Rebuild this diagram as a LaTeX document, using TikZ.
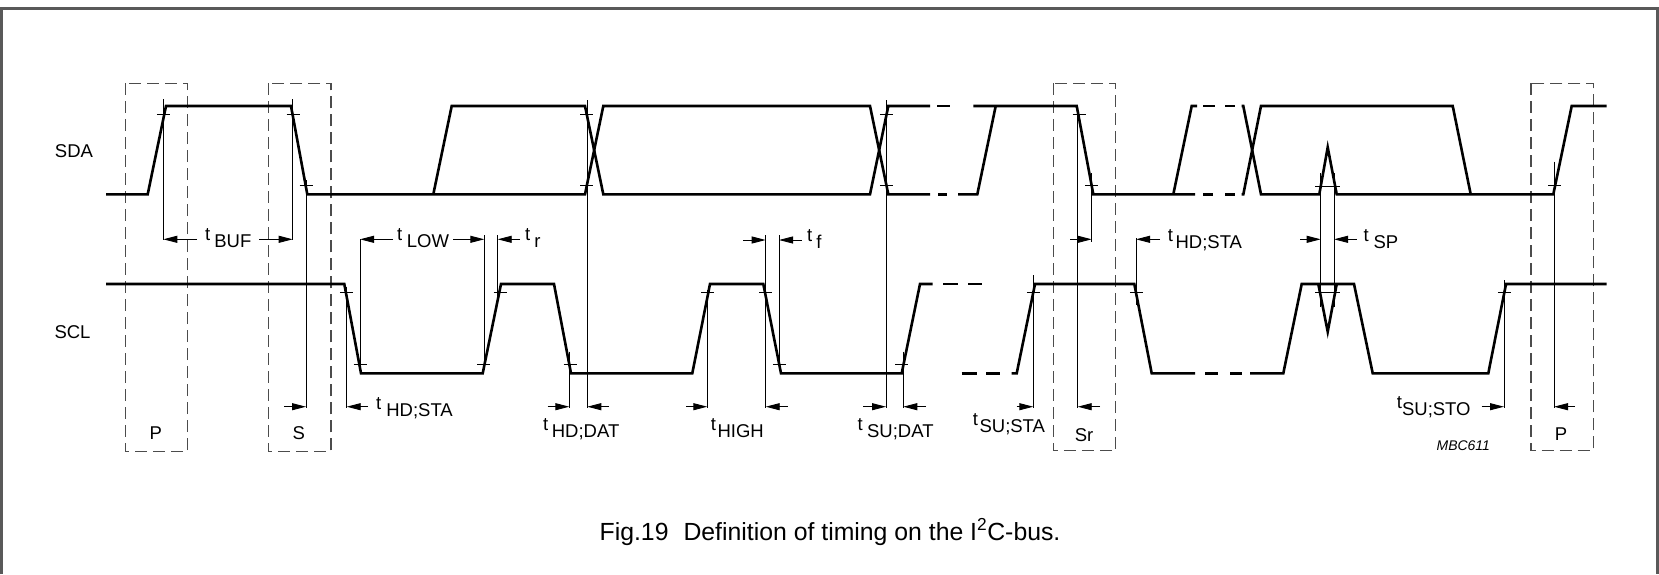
\documentclass[tikz,border=0pt]{standalone}
\usepackage{fontspec}
\setmainfont{Liberation Sans}
\usetikzlibrary{arrows.meta}
\newcommand{\tlab}[2]{t\hspace{#1pt}\raisebox{-7pt}{#2}}

\begin{document}
\begin{tikzpicture}[x=1pt,y=-1pt,
    sigline/.style={line width=2.6pt},
    guideline/.style={line width=0.9pt},
    dimarrow/.style={line width=0.9pt,-{Triangle[length=14pt,width=7pt]}},
    phasebox/.style={line width=1.2pt,black!70,dash pattern=on 12pt off 6pt},
    lbl/.style={font=\fontsize{18.5}{20}\selectfont,inner sep=0pt}]
    \useasboundingbox (0,0) rectangle (1659,574);
    \draw[line width=3pt,black!65] (1.5,574) -- (1.5,8.5) -- (1657.5,8.5) -- (1657.5,574);

    \draw[phasebox] (125.7,83.3) rectangle (187.7,451.7);
    \draw[phasebox] (268.7,83.3) rectangle (331,451.7);
    \draw[phasebox] (1053.3,83.3) rectangle (1115.7,450.7);
    \draw[phasebox] (1531,83.3) rectangle (1593.3,450.7);

    \draw[sigline] (106,194.3) -- (147.7,194.3) -- (166,106) -- (291,106) -- (307.3,194.3) -- (585,194.3) -- (603.3,106) -- (870,106) -- (888.3,194.3) -- (930,194.3);
    \draw[sigline] (433.3,194.3) -- (451.7,106) -- (585,106) -- (603.3,194.3) -- (870,194.3) -- (888.3,106) -- (930,106);
    \draw[sigline] (937,106) -- (950,106) (938,194.3) -- (947,194.3);
    \draw[sigline] (958,194.3) -- (977.3,194.3) -- (995.7,106);
    \draw[sigline] (973.3,106) -- (1076.7,106) -- (1093.3,194.3) -- (1195,194.3);
    \draw[sigline] (1173.3,194.3) -- (1191.7,106) -- (1197,106);
    \draw[sigline] (1203.3,106) -- (1215,106) (1225,106) -- (1235,106) (1203.3,194.3) -- (1213.3,194.3) (1225,194.3) -- (1235,194.3);
    \draw[sigline] (1241.7,106) -- (1243.3,106) -- (1261,194.3) -- (1319.3,194.3) -- (1327.7,147.3) -- (1336.7,194.3) -- (1553.3,194.3) -- (1571.7,106) -- (1606.7,106);
    \draw[sigline] (1241.7,194.3) -- (1243.3,194.3) -- (1261,106) -- (1452.7,106) -- (1470.7,194.3);

    \draw[sigline] (106,284) -- (344.3,284) -- (361,373.3) -- (482.7,373.3) -- (501,284) -- (554,284) -- (571,373.3) -- (692.3,373.3) -- (710,284) -- (763.3,284) -- (781,373.3) -- (901.7,373.3) -- (920,284) -- (932.7,284);
    \draw[sigline] (943.3,284) -- (958.3,284) (968.3,284) -- (981.7,284) (961.7,373.3) -- (976.7,373.3) (986,373.3) -- (1000,373.3);
    \draw[sigline] (1011.7,373.3) -- (1016.7,373.3) -- (1035,284) -- (1134.3,284) -- (1151.7,373.3) -- (1195,373.3);
    \draw[sigline] (1205,373.3) -- (1218.3,373.3) (1230,373.3) -- (1241.7,373.3);
    \draw[sigline] (1250,373.3) -- (1283.3,373.3) -- (1301.7,284) -- (1354,284) -- (1372.7,373.3) -- (1488.3,373.3) -- (1506,284) -- (1606.7,284);
    \draw[sigline] (1318.3,284) -- (1327.7,331.7) -- (1336.7,284);

    \foreach \x/\y in {163.3/114.3, 293/114.3, 306/185.7, 586.7/114.3, 586.7/185.7, 886.3/114.3, 886.3/185.7,
        1079/114.3, 1091.5/185.7, 1554.5/185.7, 346.3/292.3, 360/364.3, 483.8/364.3, 500/292.3, 570/364.3,
        707.5/292.3, 765.8/292.3, 779.3/364.3, 901.7/364.3, 1033.3/292.3, 1136.3/292.3, 1504.3/292.3}
        \draw[guideline] (\x-6.5,\y) -- (\x+6.5,\y);
    \draw[guideline] (1315,186) -- (1340,186) (1315,292.3) -- (1340,292.3);

    \draw[guideline] (163.3,99) -- (163.3,240);
    \draw[guideline] (292.7,99) -- (292.7,240);
    \draw[guideline] (306,180) -- (306,408);
    \draw[guideline] (346.7,287) -- (346.7,408);
    \draw[guideline] (360,239) -- (360,370);
    \draw[guideline] (484.3,235) -- (484.3,370);
    \draw[guideline] (497.7,235) -- (497.7,297);
    \draw[guideline] (569.3,351.7) -- (569.3,408);
    \draw[guideline] (587.3,100) -- (587.3,408);
    \draw[guideline] (707.3,290) -- (707.3,408);
    \draw[guideline] (765.7,235) -- (765.7,408);
    \draw[guideline] (779,235) -- (779,368);
    \draw[guideline] (886,100) -- (886,408);
    \draw[guideline] (903.3,351.7) -- (903.3,408);
    \draw[guideline] (1033.3,275) -- (1033.3,408);
    \draw[guideline] (1077.7,105) -- (1077.7,408);
    \draw[guideline] (1091.7,173) -- (1091.7,241.7);
    \draw[guideline] (1136,238) -- (1136,305);
    \draw[guideline] (1320.7,173) -- (1320.7,306.7);
    \draw[guideline] (1334,173) -- (1334,306.7);
    \draw[guideline] (1504,280) -- (1504,408);
    \draw[guideline] (1554,161.7) -- (1554,408);

    \draw[dimarrow] (197,239.3) -- (163.3,239.3);
    \draw[dimarrow] (259,239.3) -- (292.7,239.3);
    \draw[dimarrow] (284,406.7) -- (306,406.7);
    \draw[dimarrow] (368,406.7) -- (346.7,406.7);
    \draw[dimarrow] (393,239.3) -- (360,239.3);
    \draw[dimarrow] (453,239.3) -- (484.3,239.3);
    \draw[dimarrow] (520,239.3) -- (497.7,239.3);
    \draw[dimarrow] (547.7,406.7) -- (569.3,406.7);
    \draw[dimarrow] (609,406.7) -- (587.3,406.7);
    \draw[dimarrow] (686,406.7) -- (707.3,406.7);
    \draw[dimarrow] (787.7,406.7) -- (765.7,406.7);
    \draw[dimarrow] (743.3,240) -- (765.7,240);
    \draw[dimarrow] (801.7,240) -- (779,240);
    \draw[dimarrow] (863.3,406.7) -- (886,406.7);
    \draw[dimarrow] (926,406.7) -- (903.3,406.7);
    \draw[dimarrow] (1016.7,406.7) -- (1033.3,406.7);
    \draw[dimarrow] (1070,239.3) -- (1091.7,239.3);
    \draw[dimarrow] (1100,406.7) -- (1077.7,406.7);
    \draw[dimarrow] (1160,239.3) -- (1136,239.3);
    \draw[dimarrow] (1300,239.3) -- (1320.7,239.3);
    \draw[dimarrow] (1356.7,239.3) -- (1334,239.3);
    \draw[dimarrow] (1481.7,406.7) -- (1504,406.7);
    \draw[dimarrow] (1575,406.7) -- (1554,406.7);

    \node[lbl] (sda) at (74,151.5) {SDA};
    \node[lbl] (scl) at (72.5,331.7) {SCL};
    \node[lbl,anchor=base] (pleft) at (155.7,439.3) {P};
    \node[lbl,anchor=base] (start) at (298.7,439.3) {S};
    \node[lbl,anchor=base] (rstart) at (1084,441) {Sr};
    \node[lbl,anchor=base] (pright) at (1561,440) {P};

    \node[lbl,anchor=base west] (tbuf) at (205,240.7) {\tlab{4}{BUF}};
    \node[lbl,anchor=base west] (tlow) at (397,240.7) {\tlab{4.5}{LOW}};
    \node[lbl,anchor=base west] (trise) at (525,240.7) {\tlab{4}{r}};
    \node[lbl,anchor=base west] (thdsta) at (376,409.3) {\tlab{5}{HD;STA}};
    \node[lbl,anchor=base west] (thddat) at (543,430.7) {\tlab{3.5}{HD;DAT}};
    \node[lbl,anchor=base west] (thigh) at (710.7,430) {\tlab{1.5}{HIGH}};
    \node[lbl,anchor=base west] (tfall) at (807,241.7) {\tlab{4}{f}};
    \node[lbl,anchor=base west] (tsudat) at (857.3,430) {\tlab{4.5}{SU;DAT}};
    \node[lbl,anchor=base west] (tsusta) at (972.7,425.5) {\tlab{1.5}{SU;STA}};
    \node[lbl,anchor=base west] (thdstr) at (1167.7,241.7) {\tlab{2.5}{HD;STA}};
    \node[lbl,anchor=base west] (tsp) at (1363.3,241.7) {\tlab{5}{SP}};
    \node[lbl,anchor=base west] (tsusto) at (1396.7,408.3) {\tlab{0}{SU;STO}};

    \node[font=\fontsize{14}{16}\selectfont\itshape,inner sep=0pt,anchor=base] (code) at (1463.3,450.7) {MBC611};
    \node[font=\fontsize{24.8}{28}\selectfont,inner sep=0pt,anchor=base] (caption) at (830,540)
        {Fig.19\hspace{15pt}Definition of timing on the I\textsuperscript{2}C-bus.};
\end{tikzpicture}
\end{document}
